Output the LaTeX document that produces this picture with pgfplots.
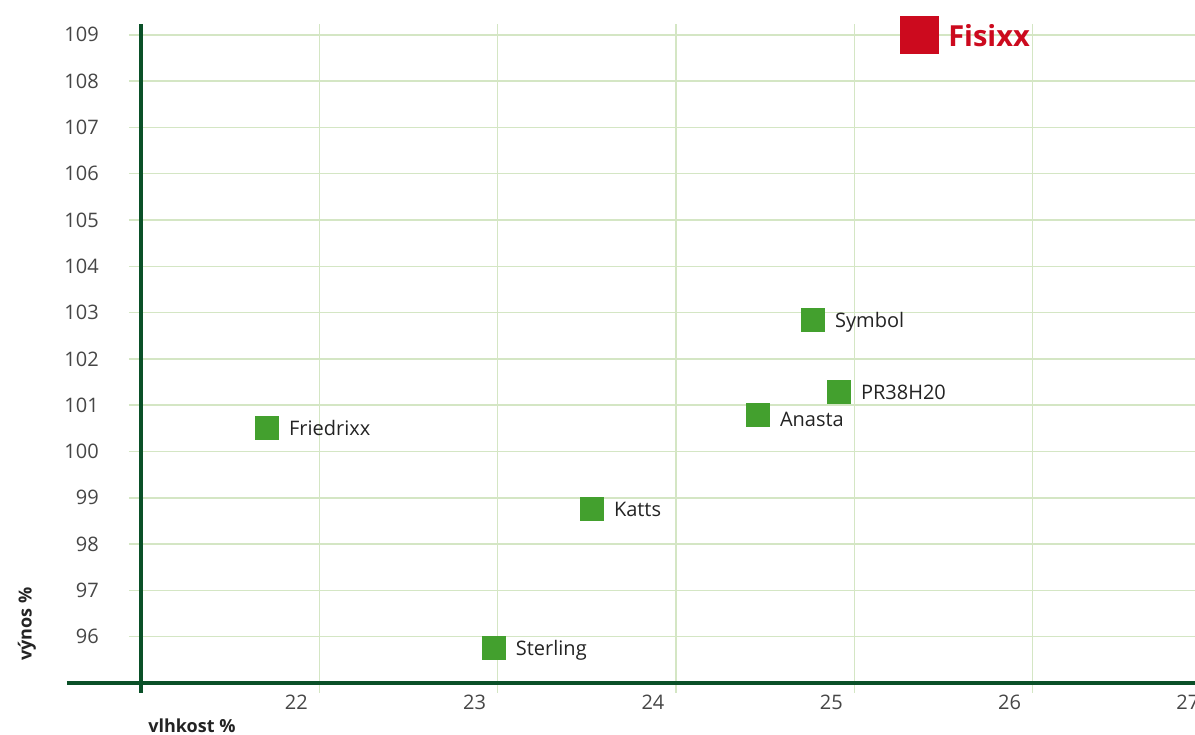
\documentclass[border=0pt]{standalone}
\usepackage{fontspec}
\setmainfont{Open Sans}
\usepackage{pgfplots}
\pgfplotsset{compat=1.18}

\definecolor{axisgreen}{RGB}{10,80,40}
\definecolor{gridgreen}{RGB}{212,230,196}
\definecolor{markgreen}{RGB}{67,160,46}
\definecolor{fisred}{RGB}{204,10,30}
\definecolor{tickgray}{RGB}{70,70,70}
\definecolor{labelgray}{RGB}{35,35,35}

\pgfplotsset{
    variety/.style={
        only marks, mark=square*, mark size=11.75pt,
        mark options={draw=markgreen, fill=markgreen, line width=0.5pt},
        point meta=explicit symbolic,
        nodes near coords,
        nodes near coords align={anchor=base west},
        nodes near coords style={anchor=base west, xshift=22pt, yshift=#1,
            font=\fontsize{20}{24}\selectfont, text=labelgray, inner sep=0pt},
    },
}

\begin{document}
\begin{tikzpicture}
\begin{axis}[
    x=178.33pt, y=46.3pt,
    at={(129pt,42pt)}, anchor=south west,
    xmin=20.933, xmax=27.2,
    ymin=94.784, ymax=109.24,
    clip=false,
    axis line style={draw=none},
    grid=major,
    grid style={gridgreen, line width=1.5pt},
    major tick length=0pt,
    xtick={22,23,24,25,26,27},
    ytick={96,97,...,109},
    /pgf/number format/assume math mode=true,
    ticklabel style={font=\fontsize{20}{24}\selectfont, text=tickgray, inner sep=0pt},
    xticklabel style={anchor=north, xshift=-23pt, yshift=-2pt},
    yticklabel style={anchor=east, xshift=-30pt},
]

% axis lines
\draw[axisgreen, line width=3.3pt] (axis cs:20.585,95) -- (axis cs:27.2,95);
\draw[axisgreen, line width=3.3pt] (axis cs:21,94.784) -- (axis cs:21,109.24);

% varieties
\addplot[variety=-8pt] coordinates {
    (21.706,100.51) [Friedrixx]
    (22.978,95.76)  [Sterling]
    (23.528,98.76)  [Katts]
    (24.913,101.29) [PR38H20]
    (24.768,102.84) [Symbol]
};
% label sits a little lower in the original
\addplot[variety=-12pt] coordinates {
    (24.459,100.79) [Anasta]
};

% highlighted variety
\addplot[
    only marks, mark=square*, mark size=18.75pt,
    mark options={draw=fisred, fill=fisred, line width=0.5pt},
    point meta=explicit symbolic,
    nodes near coords,
    nodes near coords align={anchor=base west},
    nodes near coords style={anchor=base west, xshift=29pt, yshift=-12pt,
        font=\fontsize{29}{34}\selectfont\bfseries, text=fisred, inner sep=0pt},
] coordinates {
    (25.363,109.0) [Fisixx]
};

\node[font=\fontsize{18}{22}\selectfont\bfseries, text=labelgray, anchor=base]
    at (axis cs:21.286,93.94) {vlhkost \%};
\node[font=\fontsize{18}{22}\selectfont\bfseries, text=labelgray, rotate=90, anchor=center]
    at (axis cs:20.361,96.274) {výnos \%};
\end{axis}
\pgfresetboundingbox
\useasboundingbox (0,0) rectangle (1195pt,735pt);
\end{tikzpicture}
\end{document}
